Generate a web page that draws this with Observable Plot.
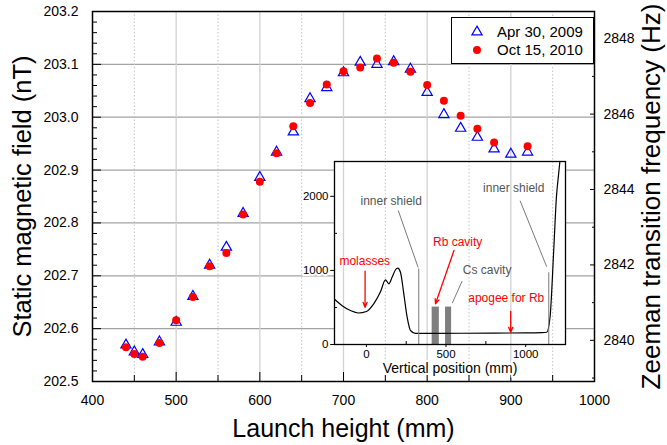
<!DOCTYPE html>
<html><head><meta charset="utf-8">
<script src="https://cdn.jsdelivr.net/npm/d3@7"></script>
<script src="https://cdn.jsdelivr.net/npm/@observablehq/plot@0.6"></script>
<style>
body{margin:0;background:#fff;font-family:"Liberation Sans",Arial,sans-serif;}
#wrap{position:relative;width:667px;height:445px;overflow:hidden;background:#fff}
#inset{position:absolute;left:280px;top:150px}
#legend{position:absolute;left:451px;top:17px;width:143px;height:47px;box-sizing:border-box;border:1px solid #000;background:#fff;font-size:15px;color:#000}
#legend .sym{position:absolute;left:17px;width:16px;height:16px}
#legend .lab{position:absolute;left:45px;line-height:18px;white-space:nowrap}
</style></head><body>
<div id="wrap"><div id="main"></div><div id="inset"></div><div id="legend"></div></div>
<script>
// ---------- data ----------
const heights2009 = [440,450,460,480,500,520,540,560,580,600,620,640,660,680,700,720,740,760,780,800,820,840,860,880,900,920];
const field2009   = [202.569,202.556,202.551,202.575,202.612,202.661,202.720,202.754,202.818,202.886,202.934,202.972,203.035,203.056,203.084,203.104,203.100,203.105,203.091,203.047,203.005,202.979,202.962,202.940,202.930,202.934];
const heights2010 = [440,450,460,480,500,520,540,560,580,600,620,640,660,680,700,720,740,760,780,800,820,840,860,880,920];
const field2010   = [202.565,202.552,202.547,202.573,202.616,202.660,202.718,202.743,202.816,202.878,202.932,202.983,203.027,203.062,203.087,203.094,203.111,203.103,203.086,203.061,203.031,203.003,202.978,202.952,202.945];
const seriesNames = ["Apr 30, 2009", "Oct 15, 2010"];

const xTicks = [400,500,600,700,800,900,1000];
const xMinor = [450,550,650,750,850,950];
const yTicks = [202.5,202.6,202.7,202.8,202.9,203.0,203.1,203.2];
const freqTicks = [2840,2842,2844,2846,2848];
const freqMinor = [2839,2841,2843,2845,2847];
const HZ_PER_NT = 14.0193; // right axis: Zeeman frequency = HZ_PER_NT * field

// inset: field profile along the vertical axis
const profilePos = [-200,-150,-100,-50,0,46,88,120,141,162,183,197,214,235,256,277,308,400,600,800,1000,1100,1132,1153,1176,1193,1207,1216];
const profileVal = [610,520,458,425,445,549,707,873,819,910,1009,1030,976,684,369,189,150,150,152,154,156,160,165,368,1269,1988,2304,2500];
const insetXTicks = [0,500,1000];
const insetXMinor = [250,750];
const insetYTicks = [0,1000,2000];
const insetYMinor = [500,1500];
const cavityNames = ["Rb","Cs"];
const cavityX1 = [413,497];
const cavityX2 = [458,535];
const cavityTop = [505,505];
const grayLabels = ["inner shield","inner shield","Cs cavity"];
const grayLabelX = [156,925,758];
const grayLabelY = [1934,2109,999];
const redLabels = ["molasses","Rb cavity","apogee for Rb"];
const redLabelX = [-10,573,878];
const redLabelY = [1124,1385,625];
const grayLineX1 = [200,329,965,1145,601];
const grayLineY1 = [1810,1025,1940,975,855];
const grayLineX2 = [325,329,1132,1145,539];
const grayLineY2 = [1040,0,1050,0,557];
const redArrowX1 = [-8,550,906];
const redArrowY1 = [990,1269,446];
const redArrowX2 = [-8,434,906];
const redArrowY2 = [503,549,166];

// ---------- layout ----------
const W = 667, H = 445;
const M = {left: 92, right: 73, top: 11, bottom: 64};
const INSET = {left: 280, top: 150, width: 300, height: 230, ml: 54, mr: 15, mt: 11, mb: 36};

// ---------- tables ----------
const d2009 = heights2009.map((h,i)=>({h, b: field2009[i]}));
const d2010 = heights2010.map((h,i)=>({h, b: field2010[i]}));
const yMinor = d3.range(202.52, 203.2, 0.02).filter(v => Math.abs(v*10 - Math.round(v*10)) > 1e-6);
const profile = profilePos.map((p,i)=>({p, v: profileVal[i]}));
const cavities = cavityNames.map((n,i)=>({n, x1: cavityX1[i], x2: cavityX2[i], top: cavityTop[i]}));
const grayText = grayLabels.map((t,i)=>({t, x: grayLabelX[i], y: grayLabelY[i]}));
const redText = redLabels.map((t,i)=>({t, x: redLabelX[i], y: redLabelY[i]}));
const grayLines = grayLineX1.map((x1,i)=>({x1, y1: grayLineY1[i], x2: grayLineX2[i], y2: grayLineY2[i]}));
const redArrows = redArrowX1.map((x1,i)=>({x1, y1: redArrowY1[i], x2: redArrowX2[i], y2: redArrowY2[i]}));

const FONT = "'Liberation Sans', Arial, sans-serif";
const BLUE = "#0000ff", RED = "#ff0000";
const plain = d => String(d);

// inset area expressed in main-chart data units (to hide horizontal grid behind it)
const xDomain = [400, 1000], yDomain = [202.5, 203.2];
const sx = Plot.scale({x: {domain: xDomain, range: [M.left, W - M.right]}});
const sy = Plot.scale({y: {domain: yDomain, range: [H - M.bottom, M.top]}});
const insetBox = [{
  x1: sx.invert(INSET.left + INSET.ml), x2: sx.invert(INSET.left + INSET.width - INSET.mr),
  y1: sy.invert(INSET.top + INSET.height - INSET.mb), y2: sy.invert(INSET.top + INSET.mt)
}];

// ---------- main chart ----------
const main = Plot.plot({
  width: W, height: H,
  marginLeft: M.left, marginRight: M.right, marginTop: M.top, marginBottom: M.bottom,
  x: {domain: xDomain},
  y: {domain: yDomain},
  style: {fontFamily: FONT, background: "white", color: "black", overflow: "visible"},
  marks: [
    Plot.ruleY(yTicks.slice(1, -1), {stroke: "#a3a3a3", strokeWidth: 1.3}),
    Plot.rect(insetBox, {x1: "x1", x2: "x2", y1: "y1", y2: "y2", fill: "white"}),
    Plot.ruleX(xTicks.slice(1, -1), {stroke: "#d2d2d2", strokeWidth: 1.3}),
    Plot.ruleX(xMinor, {stroke: "#c4c4c4", strokeWidth: 1, strokeDasharray: "1.5,2"}),
    Plot.axisY(yTicks, {anchor: "left", tickSize: -9, tickPadding: 23, tickFormat: d => d.toFixed(1), fontSize: 14, label: null}),
    Plot.axisY(yMinor, {anchor: "left", tickSize: -5, tickFormat: () => "", label: null}),
    Plot.axisY(freqTicks.map(f => f / HZ_PER_NT), {anchor: "right", tickSize: -5, tickPadding: 14, tickFormat: d => String(Math.round(d * HZ_PER_NT)), fontSize: 14, label: null}),
    Plot.axisY(freqMinor.map(f => f / HZ_PER_NT), {anchor: "right", tickSize: -3, tickFormat: () => "", label: null}),
    Plot.axisX(xTicks, {anchor: "bottom", tickSize: -9, tickPadding: 23, tickFormat: plain, fontSize: 14, label: null}),
    Plot.axisX(xMinor, {anchor: "bottom", tickSize: -6, tickFormat: () => "", label: null}),
    Plot.dot(d2009, {x: "h", y: "b", symbol: "triangle", r: 3.8, stroke: BLUE, fill: "none", strokeWidth: 1.2}),
    Plot.dot(d2010, {x: "h", y: "b", r: 4, fill: RED, stroke: "none"}),
    Plot.text(["Launch height (mm)"], {frameAnchor: "bottom", dy: 47, fontSize: 25, textAnchor: "middle", lineAnchor: "middle"}),
    Plot.text(["Static magnetic field (nT)"], {frameAnchor: "left", dx: -70, rotate: -90, fontSize: 25.5, textAnchor: "middle", lineAnchor: "middle"}),
    Plot.text(["Zeeman transition frequency (Hz)"], {frameAnchor: "right", dx: 57, rotate: -90, fontSize: 26, textAnchor: "middle", lineAnchor: "middle"}),
    Plot.frame({stroke: "black", strokeWidth: 1.5})
  ]
});
document.getElementById("main").appendChild(main);

// ---------- inset ----------
const inset = Plot.plot({
  width: INSET.width, height: INSET.height,
  marginLeft: INSET.ml, marginRight: INSET.mr, marginTop: INSET.mt, marginBottom: INSET.mb,
  x: {domain: [-200, 1250]},
  y: {domain: [0, 2470]},
  style: {fontFamily: FONT, background: "transparent", color: "black", overflow: "visible"},
  marks: [
    Plot.axisY(insetYTicks, {anchor: "left", tickSize: 4, tickPadding: 2, tickFormat: plain, fontSize: 11.5, textStroke: "white", textStrokeWidth: 4, label: null}),
    Plot.axisY(insetYMinor, {anchor: "left", tickSize: -3, tickFormat: () => "", label: null}),
    Plot.axisX(insetXTicks, {anchor: "bottom", tickSize: 3, tickPadding: 2, tickFormat: plain, fontSize: 11.5, textStroke: "white", textStrokeWidth: 4, label: null}),
    Plot.axisX(insetXMinor, {anchor: "bottom", tickSize: -3, tickFormat: () => "", label: null}),
    Plot.rect(cavities, {x1: "x1", x2: "x2", y1: 0, y2: "top", fill: "#7f7f7f"}),
    Plot.line(profile, {x: "p", y: "v", stroke: "black", strokeWidth: 1.2, curve: "monotone-x", clip: true}),
    Plot.link(grayLines, {x1: "x1", y1: "y1", x2: "x2", y2: "y2", stroke: "#7a7a7a", strokeWidth: 1}),
    Plot.arrow(redArrows, {x1: "x1", y1: "y1", x2: "x2", y2: "y2", stroke: RED, strokeWidth: 1.3, headLength: 6, headAngle: 45}),
    Plot.text(grayText, {x: "x", y: "y", text: "t", fill: "#555555", fontSize: 12}),
    Plot.text(redText, {x: "x", y: "y", text: "t", fill: RED, fontSize: 12}),
    Plot.text(["Vertical position (mm)"], {frameAnchor: "bottom", dy: 24, fontSize: 14, textAnchor: "middle", lineAnchor: "middle", fill: "black", stroke: "white", strokeWidth: 4, paintOrder: "stroke"}),
    Plot.frame({stroke: "black", strokeWidth: 1.3})
  ]
});
document.getElementById("inset").appendChild(inset);

// ---------- legend ----------
const legend = document.getElementById("legend");
const triPath = d3.symbol().type(d3.symbolTriangle).size(Math.PI * 3.8 * 3.8)();
const items = [
  {name: seriesNames[0], svg: `<path d="${triPath}" transform="translate(8,8)" fill="none" stroke="${BLUE}" stroke-width="1.2"/>`, top: 5},
  {name: seriesNames[1], svg: `<circle cx="8" cy="8" r="4" fill="${RED}"/>`, top: 23}
];
for (const it of items) {
  legend.insertAdjacentHTML("beforeend",
    `<svg class="sym" style="top:${it.top + 1}px" viewBox="0 0 16 16">${it.svg}</svg><span class="lab" style="top:${it.top}px">${it.name}</span>`);
}
</script></body></html>
